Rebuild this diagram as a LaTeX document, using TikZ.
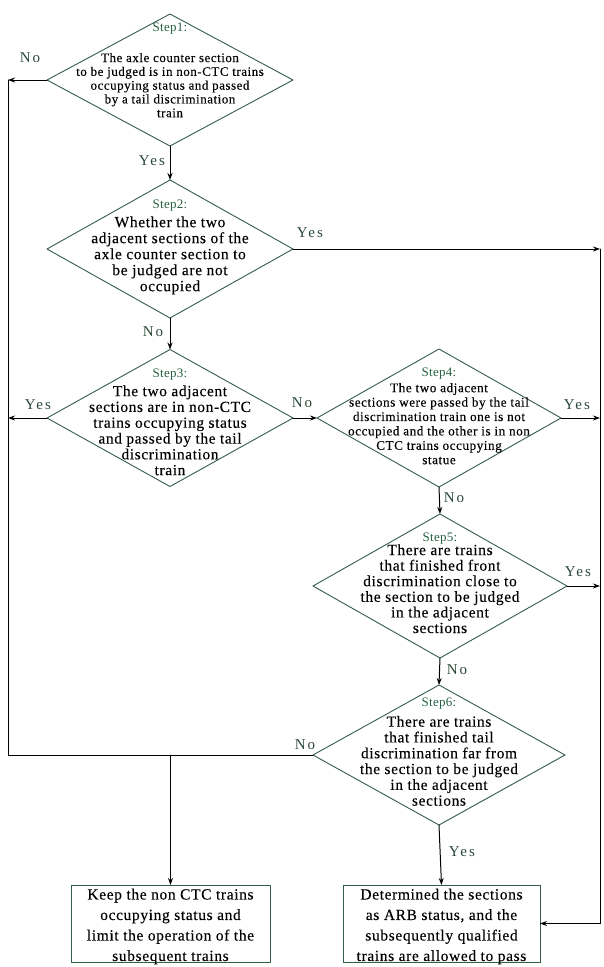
\documentclass[tikz,border=0pt]{standalone}
\usepackage{fontspec}
\setmainfont{Liberation Serif}[LetterSpace=4, FakeBold=0.15]
\newfontfamily\yesnofont[LetterSpace=14]{Liberation Serif}
\newfontfamily\stepfont[LetterSpace=2]{Liberation Serif}
\usetikzlibrary{shapes.geometric,arrows.meta}
\definecolor{edgegreen}{RGB}{52,92,72}
\definecolor{stepgreen}{RGB}{38,98,68}
\definecolor{labgreen}{RGB}{42,72,56}
\newcommand{\steplab}[1]{{\color{stepgreen}\stepfont\fontsize{13}{14}\selectfont #1}}
\begin{document}
\begin{tikzpicture}[x=1pt, y=-1pt, line join=round, line cap=round, >={Stealth[length=7pt,width=5pt]},
	dia/.style={draw=edgegreen, shape=diamond, inner sep=0pt, outer sep=0pt, line width=0.9pt},
	box/.style={draw=edgegreen, rectangle, inner sep=0pt, outer sep=0pt, line width=1pt},
	txt/.style={align=center, inner sep=0pt},
	yn/.style={font=\yesnofont\fontsize{15}{16}\selectfont, text=labgreen, inner sep=0pt},
	flow/.style={draw=black, line width=1pt}]
	\useasboundingbox (0,0) rectangle (603,967);
	% decision diamonds
	\node[dia, minimum width=246pt, minimum height=132pt] (s1) at (170,80) {};
	\node[dia, minimum width=246pt, minimum height=138pt] (s2) at (170,249) {};
	\node[dia, minimum width=246pt, minimum height=137pt] (s3) at (170,418) {};
	\node[dia, minimum width=244pt, minimum height=138pt] (s4) at (439,418) {};
	\node[dia, minimum width=254pt, minimum height=144pt] (s5) at (440,586) {};
	\node[dia, minimum width=252pt, minimum height=140pt] (s6) at (439,755) {};
	% texts in the diamonds
	\node[txt, font=\fontsize{13}{13.8}\selectfont] (t1) at (170,70) {\steplab{Step1:}\\[17pt]
		The axle counter section\\ to be judged is in non-CTC trains\\ occupying status and passed\\
		by a tail discrimination\\ train};
	\node[txt, font=\fontsize{15.5}{16}\selectfont] (t2) at (170,247) {\steplab{Step2:}\\[3pt]
		Whether the two\\ adjacent sections of the\\ axle counter section to\\ be judged are not\\ occupied};
	\node[txt, font=\fontsize{15.4}{15.8}\selectfont] (t3) at (170,422) {\steplab{Step3:}\\[3pt]
		The two adjacent\\ sections are in non-CTC\\ trains occupying status\\ and passed by the tail\\
		discrimination\\ train};
	\node[txt, font=\fontsize{13.2}{14.4}\selectfont] (t4) at (439,416) {\steplab{Step4:}\\[1.5pt]
		The two adjacent\\ sections were passed by the tail\\ discrimination train one is not\\
		occupied and the other is in non\\ CTC trains occupying\\ statue};
	\node[txt, font=\fontsize{15.5}{15.6}\selectfont] (t5) at (440,583) {\steplab{Step5:}\\[-2pt]
		There are trains\\ that finished front\\ discrimination close to\\ the section to be judged\\
		in the adjacent\\ sections};
	\node[txt, font=\fontsize{15.4}{15.8}\selectfont] (t6) at (439,752) {\steplab{Step6:}\\[4pt]
		There are trains\\ that finished tail\\ discrimination far from\\ the section to be judged\\
		in the adjacent\\ sections};
	% result boxes
	\node[box, minimum width=199pt, minimum height=77pt] (keep) at (170.5,923.5) {};
	\node[box, minimum width=197pt, minimum height=77pt] (det) at (441.5,923.5) {};
	\node[txt, font=\fontsize{15.5}{20.5}\selectfont] (keeptxt) at ([yshift=-3pt]keep.center)
		{Keep the non CTC trains\\ occupying status and\\ limit the operation of the\\ subsequent trains};
	\node[txt, font=\fontsize{15.5}{20.5}\selectfont] (dettxt) at ([yshift=-3pt]det.center)
		{Determined the sections\\ as ARB status, and the\\ subsequently qualified\\ trains are allowed to pass};
	% rails
	\coordinate (railL) at (8,0);
	\coordinate (railR) at (600,0);
	\coordinate (l1) at (s1.west -| railL);
	\coordinate (l3) at (s3.west -| railL);
	\coordinate (l6) at (s6.west -| railL);
	\coordinate (j6) at (s6.west -| keep.north);
	\coordinate (r2) at (s2.east -| railR);
	\coordinate (r4) at (s4.east -| railR);
	\coordinate (r5) at (s5.east -| railR);
	\coordinate (r7) at (det.east -| railR);
	% connectors
	\draw[flow,->] (s1.west) -- (l1);
	\draw[flow,->] (s1.south) -- (s2.north);
	\draw[flow,->] (s2.east) -- (r2);
	\draw[flow,->] (s2.south) -- (s3.north);
	\draw[flow,->] (s3.west) -- (l3);
	\draw[flow,->] (s3.east) -- (s4.west);
	\draw[flow,->] (s4.east) -- (r4);
	\draw[flow,->] (s4.south) -- (s5.north);
	\draw[flow,->] (s5.east) -- (r5);
	\draw[flow,->] (s5.south) -- (s6.north);
	\draw[flow,->] (s6.south) -- (det.north);
	\draw[flow] (l1) -- (l6) -- (s6.west);
	\draw[flow,->] (j6) -- (keep.north);
	\draw[flow] (r2) -- (r7);
	\draw[flow,->] (r7) -- (det.east);
	% yes / no labels
	\node[yn] (n1) at (30,58) {No};
	\node[yn] (y1) at (152,161) {Yes};
	\node[yn] (y2) at (310,233) {Yes};
	\node[yn] (n2) at (153,332) {No};
	\node[yn] (y3) at (38,405) {Yes};
	\node[yn] (n3) at (302,403) {No};
	\node[yn] (y4) at (577,405) {Yes};
	\node[yn] (n4) at (454,498) {No};
	\node[yn] (y5) at (578,572) {Yes};
	\node[yn] (n5) at (457,670) {No};
	\node[yn] (n6) at (305,745) {No};
	\node[yn] (y6) at (462,852) {Yes};
\end{tikzpicture}
\end{document}
